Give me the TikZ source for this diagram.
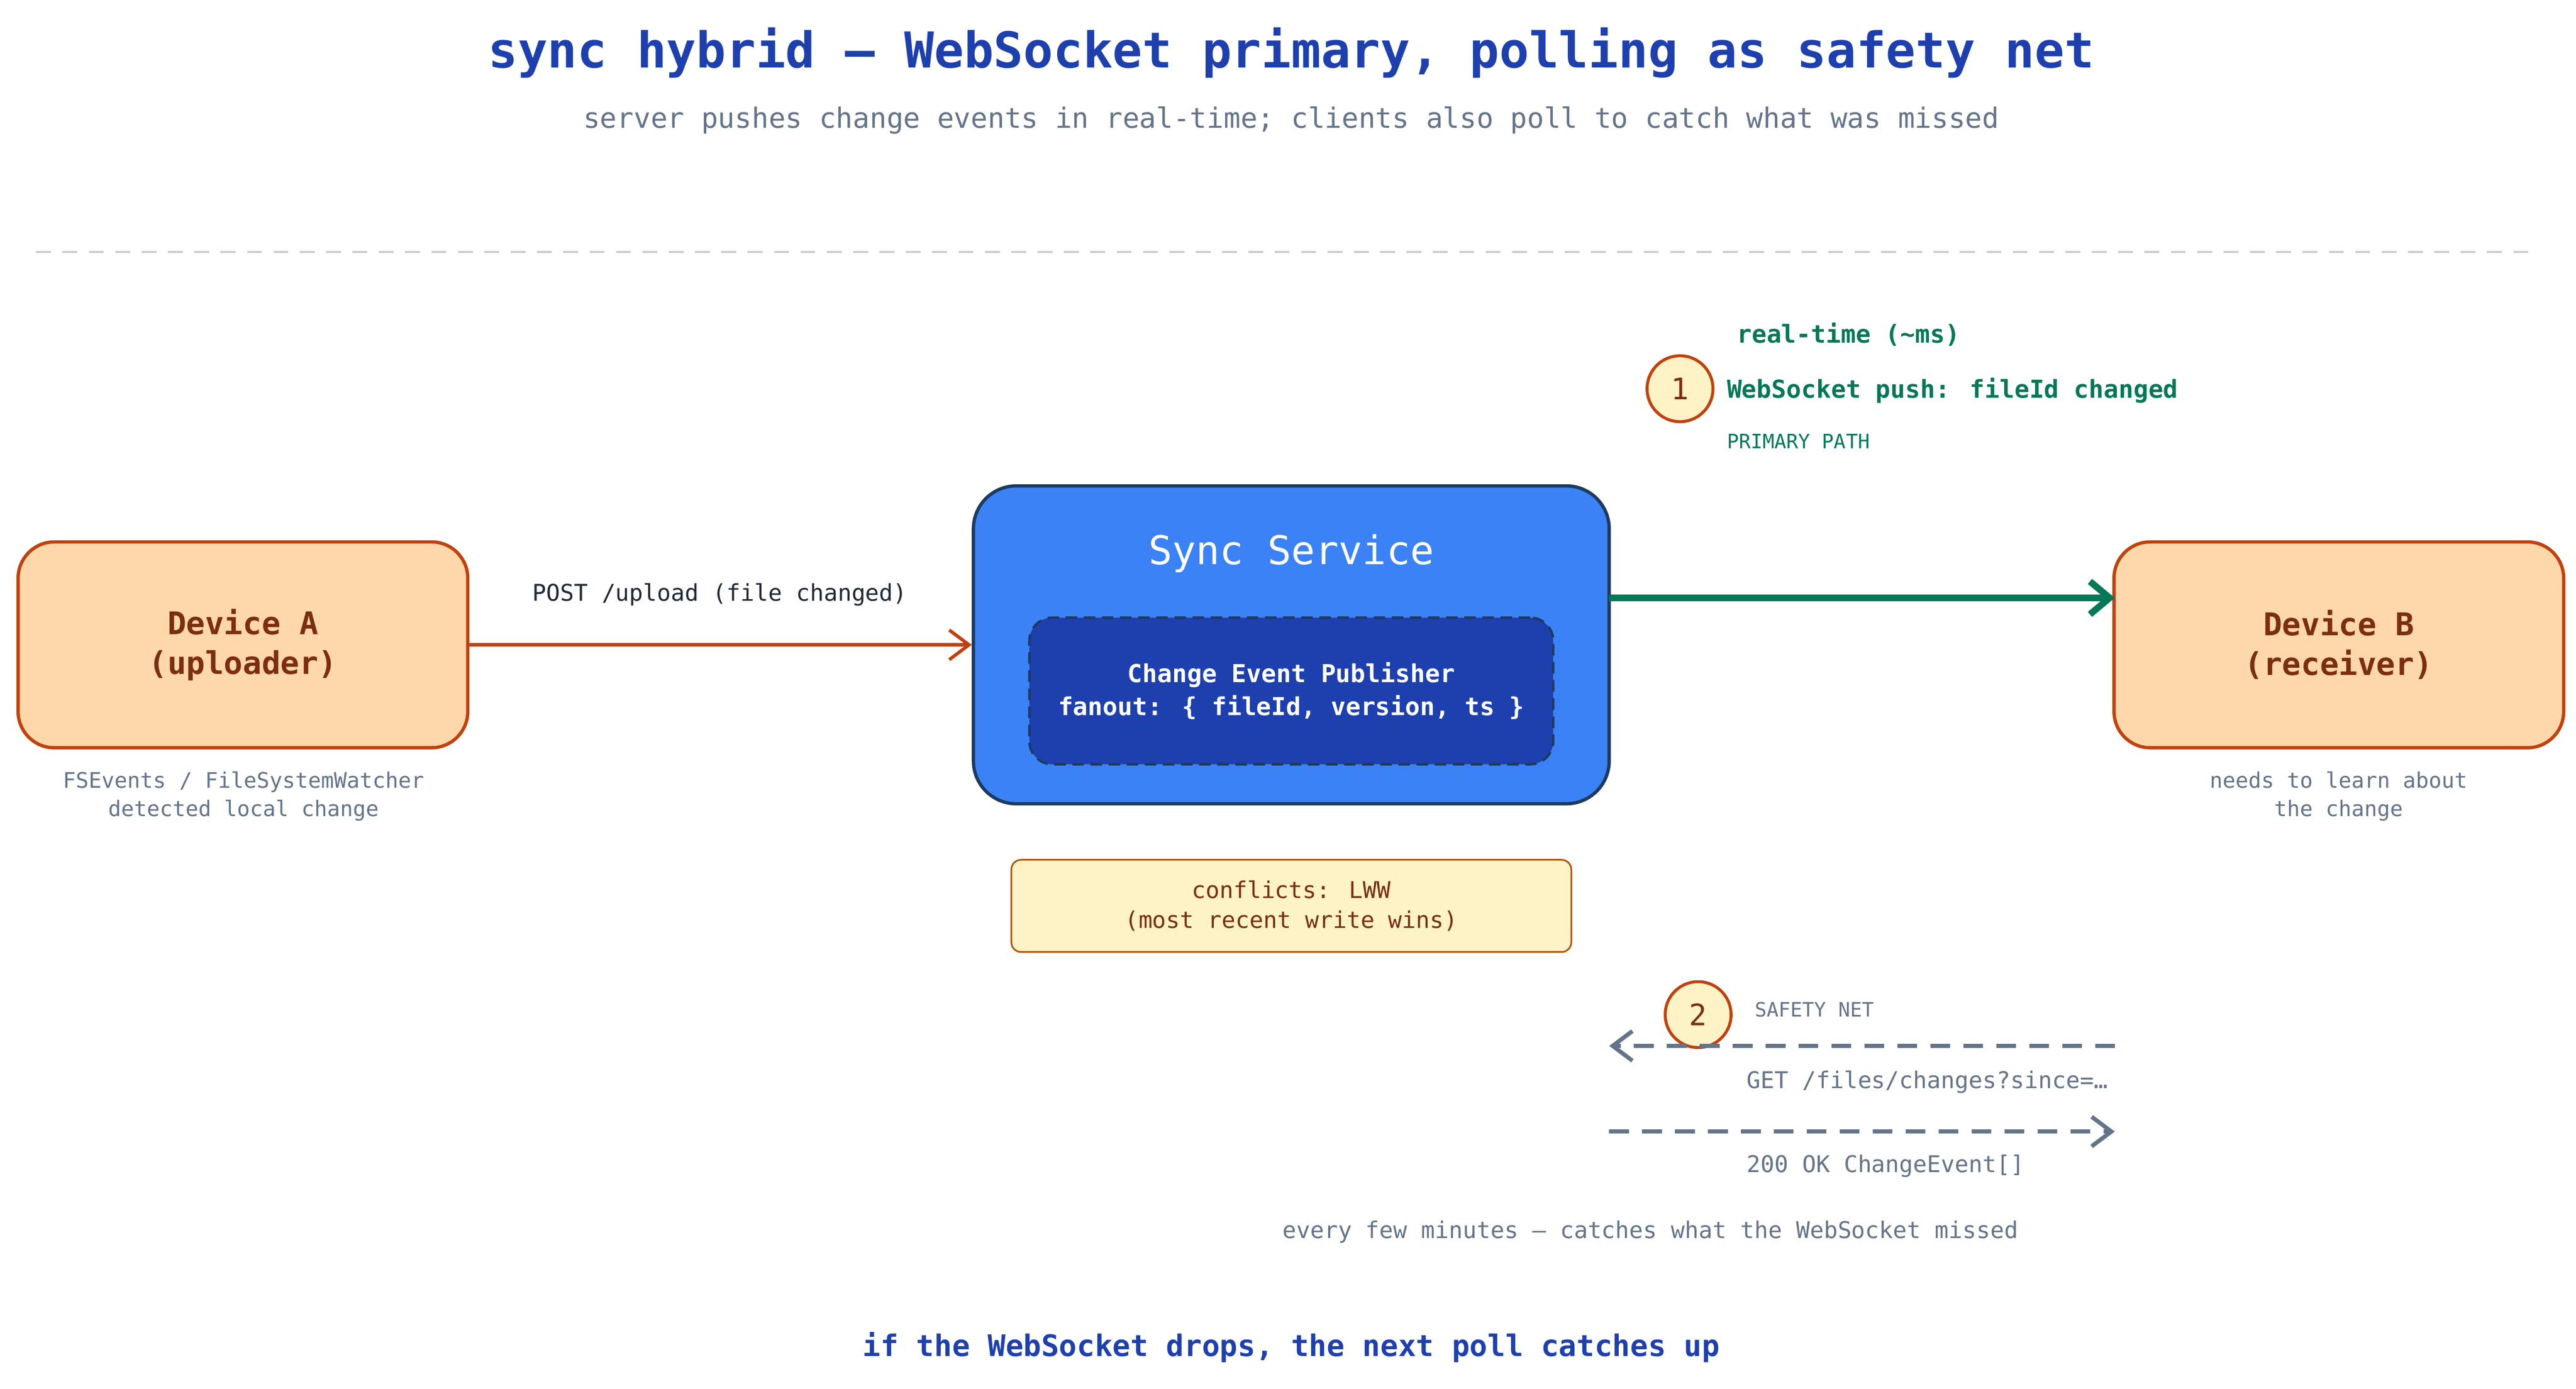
\documentclass[tikz,border=0pt]{standalone}
\usepackage{fontspec}
\setmainfont{DejaVu Sans Mono}
\usetikzlibrary{arrows.meta}
\definecolor{tblue}{HTML}{1E40AF}
\definecolor{tgray}{HTML}{64748B}
\definecolor{orfill}{HTML}{FED7AA}
\definecolor{orline}{HTML}{C2410C}
\definecolor{brown}{HTML}{7C2D12}
\definecolor{sblue}{HTML}{3B82F6}
\definecolor{sline}{HTML}{1E3A5F}
\definecolor{gr}{HTML}{047857}
\definecolor{yfill}{HTML}{FEF3C7}
\definecolor{yline}{HTML}{B45309}
\definecolor{dk}{HTML}{1F2937}
\tikzset{
 dev/.style={draw=orline,fill=orfill,line width=2pt,rounded corners=22pt,minimum width=273pt,minimum height=125pt,text=brown,align=center,font=\bfseries\fontsize{19}{24}\selectfont},
 capt/.style={text=tgray,align=center,font=\fontsize{13}{17}\selectfont},
 circ/.style={circle,draw=orline,fill=yfill,line width=1.8pt,minimum size=40pt,text=brown,font=\fontsize{18}{18}\selectfont},
}
\begin{document}
\begin{tikzpicture}[x=1pt,y=-1pt]
\useasboundingbox (0,0) rectangle (1564,843);
\fill[white] (0,0) rectangle (1564,843);
\node[text=tblue,font=\bfseries\fontsize{30}{36}\selectfont] (title) at (784,32) {sync hybrid — WebSocket primary, polling as safety net};
\node[text=tgray,font=\fontsize{17}{20}\selectfont] (sub) at (784,73) {server pushes change events in real‑time; clients also poll to catch what was missed};
\coordinate (l1) at (22,153); \coordinate (l2) at (1540,153);
\draw[black!20,line width=1.2pt,dash pattern=on 9pt off 7pt] (l1)--(l2);

\node[dev] (A) at (147.5,391.5) {Device A\\(uploader)};
\node[capt,anchor=north] (Acap) at (148,465) {FSEvents / FileSystemWatcher\\detected local change};
\node[dev] (B) at (1420,391.5) {Device B\\(receiver)};
\node[capt,anchor=north] (Bcap) at (1420,465) {needs to learn about\\the change};

\node[draw=sline,fill=sblue,line width=2pt,rounded corners=26pt,minimum width=386pt,minimum height=193pt] (S) at (784,391.5) {};
\node[text=white,font=\fontsize{24}{28}\selectfont] (St) at (784,336) {Sync Service};
\node[draw=sline,fill=tblue,line width=1.5pt,dash pattern=on 7pt off 4pt,rounded corners=14pt,minimum width=318pt,minimum height=89pt,text=white,align=center,font=\bfseries\fontsize{15}{20}\selectfont] (P) at (784,419.5) {Change Event Publisher\\fanout: \{ fileId, version, ts \}};

\node[draw=yline,fill=yfill,line width=1pt,rounded corners=6pt,minimum width=340pt,minimum height=56pt,text=brown,align=center,font=\fontsize{14}{18}\selectfont] (C) at (784,550) {conflicts: LWW\\(most recent write wins)};

\draw[orline,line width=2pt,-{Straight Barb[length=12pt,width=18pt]}] (A.east) -- (A.east -| S.west);
\node[text=dk,font=\fontsize{14}{17}\selectfont] (postl) at (437,361) {POST /upload (file changed)};

\coordinate (g1) at (977,363); \coordinate (g2) at (1284,363);
\draw[gr,line width=4pt,-{Straight Barb[length=12pt,width=20pt]}] (g1) -- (g2);
\node[circ] (c1) at (1020,236) {1};
\node[text=gr,anchor=west,font=\bfseries\fontsize{15}{18}\selectfont] at (1051,203) {real-time (\textasciitilde ms)};
\node[text=gr,anchor=west,font=\bfseries\fontsize{15}{18}\selectfont] at (1045,237) {WebSocket push: fileId changed};
\node[text=gr,anchor=west,font=\fontsize{12}{14}\selectfont] at (1045,268) {PRIMARY PATH};

\node[circ] (c2) at (1031,616) {2};
\node[text=tgray,anchor=west,font=\fontsize{12}{14}\selectfont] at (1062,613) {SAFETY NET};
\coordinate (p1) at (1284,635); \coordinate (p2) at (977,635);
\coordinate (q1) at (977,687); \coordinate (q2) at (1284,687);
\draw[tgray,line width=2.5pt,dash pattern=on 12pt off 8pt,-{Straight Barb[length=12pt,width=18pt]}] (p1) -- (p2);
\draw[tgray,line width=2.5pt,dash pattern=on 12pt off 8pt,-{Straight Barb[length=12pt,width=18pt]}] (q1) -- (q2);
\node[text=tgray,anchor=west,font=\fontsize{14}{17}\selectfont] at (1057,657) {GET /files/changes?since=…};
\node[text=tgray,anchor=west,font=\fontsize{14}{17}\selectfont] at (1057,708) {200 OK  ChangeEvent[]};
\node[text=tgray,font=\fontsize{14}{17}\selectfont] at (1002,748) {every few minutes — catches what the WebSocket missed};
\node[text=tblue,font=\bfseries\fontsize{18}{22}\selectfont] at (784,818) {if the WebSocket drops, the next poll catches up};
\end{tikzpicture}
\end{document}
